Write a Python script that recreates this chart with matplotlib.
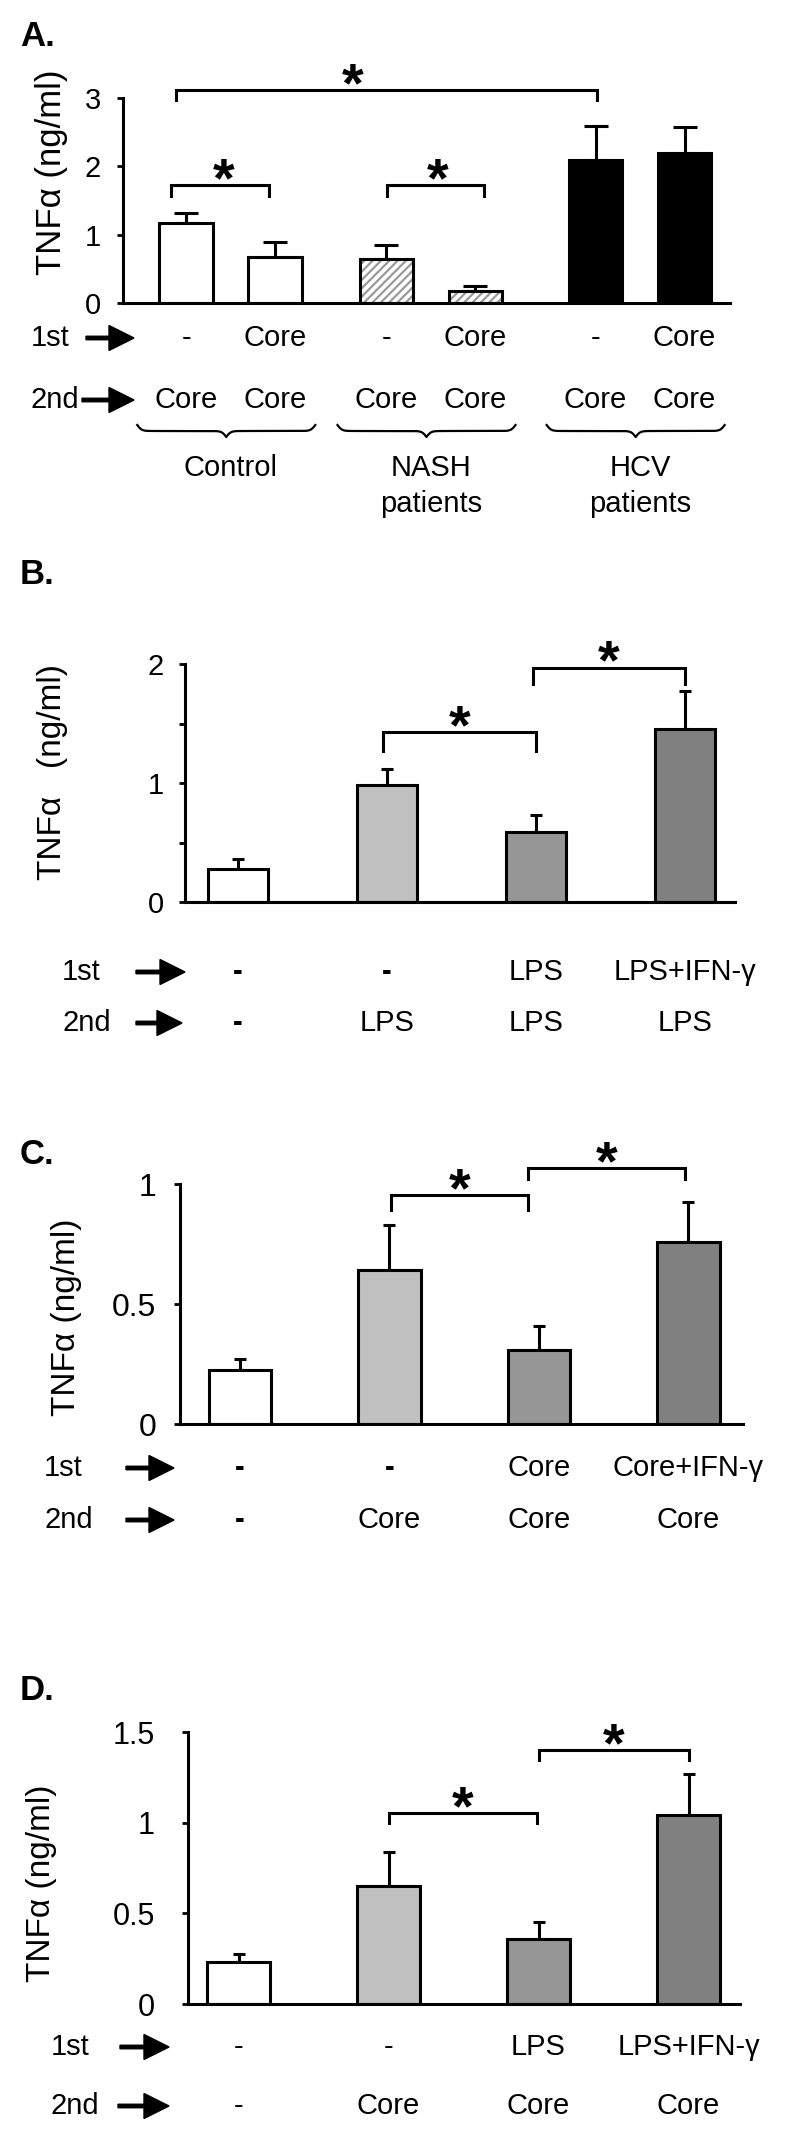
import numpy as np
import matplotlib
matplotlib.use('Agg')
import matplotlib.pyplot as plt
from matplotlib.patches import FancyArrow
from matplotlib.transforms import blended_transform_factory

plt.rcParams['font.family'] = ['Liberation Sans', 'DejaVu Sans']
plt.rcParams['hatch.linewidth'] = 1.6

# ---------------- data ----------------
# panel A: TNFa after 1st / 2nd stimulation, three donor groups
a_means = [1.17, 0.67, 0.64, 0.18, 2.09, 2.20]
a_err = [0.15, 0.22, 0.21, 0.07, 0.50, 0.38]
a_first = ['-', 'Core', '-', 'Core', '-', 'Core']
a_second = ['Core', 'Core', 'Core', 'Core', 'Core', 'Core']
a_groups = ['Control', 'NASH\npatients', 'HCV\npatients']
a_sig = [(0, 1), (2, 3), (0, 4)]

# panel B: LPS tolerance
b_means = [0.28, 0.98, 0.59, 1.45]
b_err = [0.08, 0.14, 0.14, 0.32]
b_first = ['-', '-', 'LPS', 'LPS+IFN-γ']
b_second = ['-', 'LPS', 'LPS', 'LPS']
b_sig = [(1, 2), (2, 3)]

# panel C: Core tolerance
c_means = [0.225, 0.64, 0.31, 0.76]
c_err = [0.045, 0.19, 0.10, 0.165]
c_first = ['-', '-', 'Core', 'Core+IFN-γ']
c_second = ['-', 'Core', 'Core', 'Core']
c_sig = [(1, 2), (2, 3)]

# panel D: LPS -> Core cross tolerance
d_means = [0.23, 0.65, 0.36, 1.04]
d_err = [0.045, 0.19, 0.09, 0.23]
d_first = ['-', '-', 'LPS', 'LPS+IFN-γ']
d_second = ['-', 'Core', 'Core', 'Core']
d_sig = [(1, 2), (2, 3)]

# ---------------- layout ----------------
W, H = 800, 2135
fig = plt.figure(figsize=(W / 100, H / 100), dpi=100)
cv = fig.add_axes([0, 0, 1, 1])
cv.set_xlim(0, W)
cv.set_ylim(H, 0)
cv.axis('off')

grays4 = ['white', '#c0c0c0', '#969696', '#808080']
LFS = 21  # row label size


def make_axes(box, xlim, ymax, yticks, ylabels, tfs, pad):
    left, right, y0, ytop = box
    ax = fig.add_axes([left / W, 1 - y0 / H, (right - left) / W, (y0 - ytop) / H])
    ax.set_xlim(*xlim)
    ax.set_ylim(0, ymax)
    for s in ['top', 'right']:
        ax.spines[s].set_visible(False)
    for s in ['left', 'bottom']:
        ax.spines[s].set_linewidth(2.2)
    ax.set_xticks([])
    ax.set_yticks(yticks)
    ax.set_yticklabels(ylabels)
    ax.tick_params(axis='y', direction='out', length=4, width=2, labelsize=tfs, pad=pad)
    ax.patch.set_alpha(0)
    return ax


def bars(ax, xpos, means, err, width, colors, capsize):
    ax.bar(xpos, means, width=width, color=colors, edgecolor='k', linewidth=2.2, zorder=2)
    ax.errorbar(xpos, means, yerr=[np.zeros(len(means)), err], fmt='none', ecolor='k',
                elinewidth=2.2, capsize=capsize, capthick=2.2, zorder=1, clip_on=False)


def brackets(ax, xpos, pairs, specs):
    for (i, j), (y, drop, dl, dr, sdx) in zip(pairs, specs):
        x1, x2 = xpos[i] + dl, xpos[j] + dr
        ax.plot([x1, x1, x2, x2], [y - drop, y, y, y - drop], color='k', lw=2.2,
                clip_on=False, solid_joinstyle='miter')
        fs = 40
        ax.annotate('*', xy=((x1 + x2) / 2 + sdx, y), xytext=(0, 14.4 - 0.56 * fs),
                    textcoords='offset points', ha='center', va='baseline',
                    fontsize=fs, fontweight='bold', annotation_clip=False)


def under(ax, xpos, labels, y, bold_dash=False):
    tr = blended_transform_factory(ax.transData, cv.transData)
    for x, s in zip(xpos, labels):
        wt = 'bold' if (bold_dash and s == '-') else 'normal'
        cv.text(x, y, s, transform=tr, ha='center', va='center', fontsize=LFS, fontweight=wt)


def row_head(text, x, y, ax0, ax1):
    cv.text(x, y, text, ha='left', va='center', fontsize=LFS)
    cv.add_patch(FancyArrow(ax0, y, ax1 - ax0, 0, width=3.5, head_width=25, head_length=25,
                            length_includes_head=True, color='k'))


def brace(ax, x0, x1, ytop, depth):
    tr = blended_transform_factory(ax.transData, cv.transData)
    ppu = ax.transData.transform((1, 0))[0] - ax.transData.transform((0, 0))[0]
    beta = 0.45 * ppu
    half = np.linspace(x0, (x0 + x1) / 2, 200)
    yh = 1 / (1 + np.exp(-beta * (half - half[0]))) + 1 / (1 + np.exp(-beta * (half - half[-1])))
    xs = np.concatenate([half, (x0 + x1) - half[::-1]])
    ys = np.concatenate([yh, yh[::-1]])
    cv.plot(xs, ytop + (ys - 0.5) * depth, transform=tr, color='k', lw=1.6)


def letter(s, x, y):
    cv.text(x, y, s, ha='left', va='center', fontsize=25, fontweight='bold')


# ---------------- panel A ----------------
xa = [0, 1, 2.25, 3.25, 4.6, 5.6]
axA = make_axes((123, 730, 303, 98), (-0.71, 6.11), 3, [0, 1, 2, 3], ['0', '1', '2', '3'], 21, 12)
axA.bar(xa[:2], a_means[:2], width=0.6, color='white', edgecolor='k', linewidth=2.2, zorder=2)
axA.bar(xa[2:4], a_means[2:4], width=0.6, color='white', edgecolor='#9a9a9a', linewidth=0,
        hatch='////', zorder=2)
axA.bar(xa[2:4], a_means[2:4], width=0.6, fill=False, edgecolor='k', linewidth=2.2, zorder=3)
axA.bar(xa[4:], a_means[4:], width=0.6, color='black', edgecolor='k', linewidth=2.2, zorder=2)
axA.errorbar(xa, a_means, yerr=[np.zeros(6), a_err], fmt='none', ecolor='k', elinewidth=2.2,
             capsize=8.5, capthick=2.2, zorder=1, clip_on=False)
brackets(axA, xa, a_sig, [(1.73, 0.16, -0.17, -0.07, 0.04),
                          (1.73, 0.16, 0.01, 0.10, 0.02),
                          (3.12, 0.15, -0.11, 0.02, -0.38)])
axA.set_ylabel('TNFα (ng/ml)', fontsize=25, va='center')
axA.yaxis.set_label_coords(52, 172, transform=cv.transData)
letter('A.', 20, 37)
row_head('1st', 31, 338, 86, 134)
row_head('2nd', 30, 400, 82, 134)
under(axA, xa, a_first, 338)
under(axA, xa, a_second, 400)
for k, (i, j) in enumerate([(0, 1), (2, 3), (4, 5)]):
    brace(axA, xa[i] - 0.55, xa[j] + 0.45, 425, 12)
    tr = blended_transform_factory(axA.transData, cv.transData)
    yl = 468 if k == 0 else 486
    cv.text((xa[i] + xa[j]) / 2, yl, a_groups[k], transform=tr, ha='center', va='center',
            fontsize=LFS, linespacing=1.35)

# ---------------- panel B ----------------
x4 = [0, 1, 2, 3]
axB = make_axes((185, 735, 902, 664), (-0.356, 3.336), 2, [0, 0.5, 1, 1.5, 2],
                ['0', '', '1', '', '2'], 21, 11)
bars(axB, x4, b_means, b_err, 0.4, grays4, 4)
brackets(axB, x4, b_sig, [(1.43, 0.16, -0.03, 0.0, 0.0),
                          (1.97, 0.14, -0.02, 0.0, 0.0)])
axB.set_ylabel('TNFα   (ng/ml)', fontsize=24, va='center')
axB.yaxis.set_label_coords(52, 772, transform=cv.transData)
letter('B.', 20, 574)
row_head('1st', 62, 972, 136, 185)
row_head('2nd', 62, 1023, 136, 182)
under(axB, x4, b_first, 972, bold_dash=True)
under(axB, x4, b_second, 1023, bold_dash=True)

# ---------------- panel C ----------------
axC = make_axes((180, 743, 1424, 1184), (-0.401, 3.365), 1, [0, 0.5, 1],
                ['0', '0.5', '1'], 23, 13)
bars(axC, x4, c_means, c_err, 0.42, grays4, 4.5)
brackets(axC, x4, c_sig, [(0.954, 0.063, 0.01, -0.07, 0.0),
                          (1.067, 0.046, -0.07, -0.02, 0.0)])
axC.set_ylabel('TNFα (ng/ml)', fontsize=24, va='center')
axC.yaxis.set_label_coords(67, 1317, transform=cv.transData)
letter('C.', 20, 1155)
row_head('1st', 44, 1468, 126, 174)
row_head('2nd', 44, 1520, 126, 174)
under(axC, x4, c_first, 1468, bold_dash=True)
under(axC, x4, c_second, 1520, bold_dash=True)

# ---------------- panel D ----------------
axD = make_axes((188, 740, 2004, 1732), (-0.337, 3.343), 1.5, [0, 0.5, 1, 1.5],
                ['0', '0.5', '1', '1.5'], 22, 20)
bars(axD, x4, d_means, d_err, 0.42, grays4, 4.5)
brackets(axD, x4, d_sig, [(1.055, 0.055, 0.0, -0.01, 0.0),
                          (1.40, 0.055, 0.0, 0.0, 0.0)])
axD.set_ylabel('TNFα (ng/ml)', fontsize=24, va='center')
axD.yaxis.set_label_coords(42, 1883, transform=cv.transData)
letter('D.', 20, 1690)
row_head('1st', 51, 2047, 120, 169)
row_head('2nd', 51, 2106, 118, 169)
under(axD, x4, d_first, 2047)
under(axD, x4, d_second, 2106)

fig.savefig('out.png', dpi=100)
